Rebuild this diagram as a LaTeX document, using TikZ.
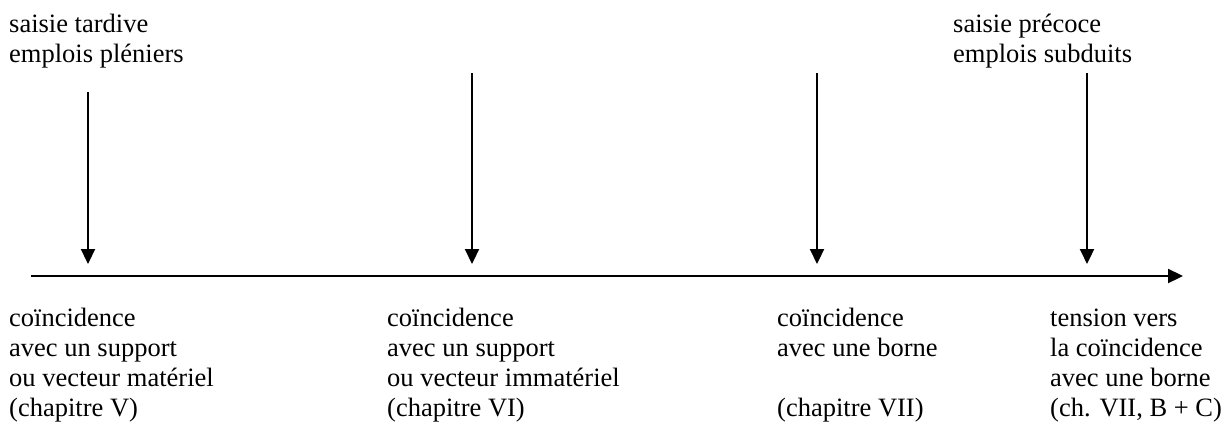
\documentclass[tikz,border=0pt]{standalone}
\usepackage{fontspec}
\setmainfont{Liberation Serif}
\usetikzlibrary{positioning,arrows.meta}

\begin{document}
\begin{tikzpicture}[x=1pt,y=-1pt,>={Triangle[length=15pt,width=14pt]},
  lbl/.style={anchor=base west,align=left,inner sep=0pt,font=\fontsize{26.5}{30}\selectfont},
  axe/.style={line width=2.2pt}]
  \useasboundingbox (0,0) rectangle (1230,423);

  % en haut (ancre sur la derniere ligne)
  \node[lbl] (tard) at (9,62) {saisie tardive\\emplois pléniers};
  \node[lbl] (prec) at (953,62) {saisie précoce\\emplois subduits};

  % en bas
  \node[lbl] (mat) at (9,416) {coïncidence\\avec un support\\ou vecteur matériel\\(chapitre V)};
  \node[lbl] (imm) at (387,416) {coïncidence\\avec un support\\ou vecteur immatériel\\(chapitre VI)};
  \node[lbl] (brn) at (777,416) {coïncidence\\avec une borne\\[30pt](chapitre VII)};
  \node[lbl] (tns) at (1050,416) {tension vers\\la coïncidence\\avec une borne\\(ch. VII, B + C)};

  % axe
  \coordinate (a0) at (31,276);
  \coordinate (a1) at (1183,276);
  \draw[axe,->] (a0) -- (a1);

  \foreach \x/\y [count=\i] in {88/92,472/73,817/73,1087/73} {
    \coordinate (h\i) at (\x,\y);
    \coordinate (b\i) at (\x,264);
    \draw[axe,->] (h\i) -- (b\i);
  }
\end{tikzpicture}
\end{document}
